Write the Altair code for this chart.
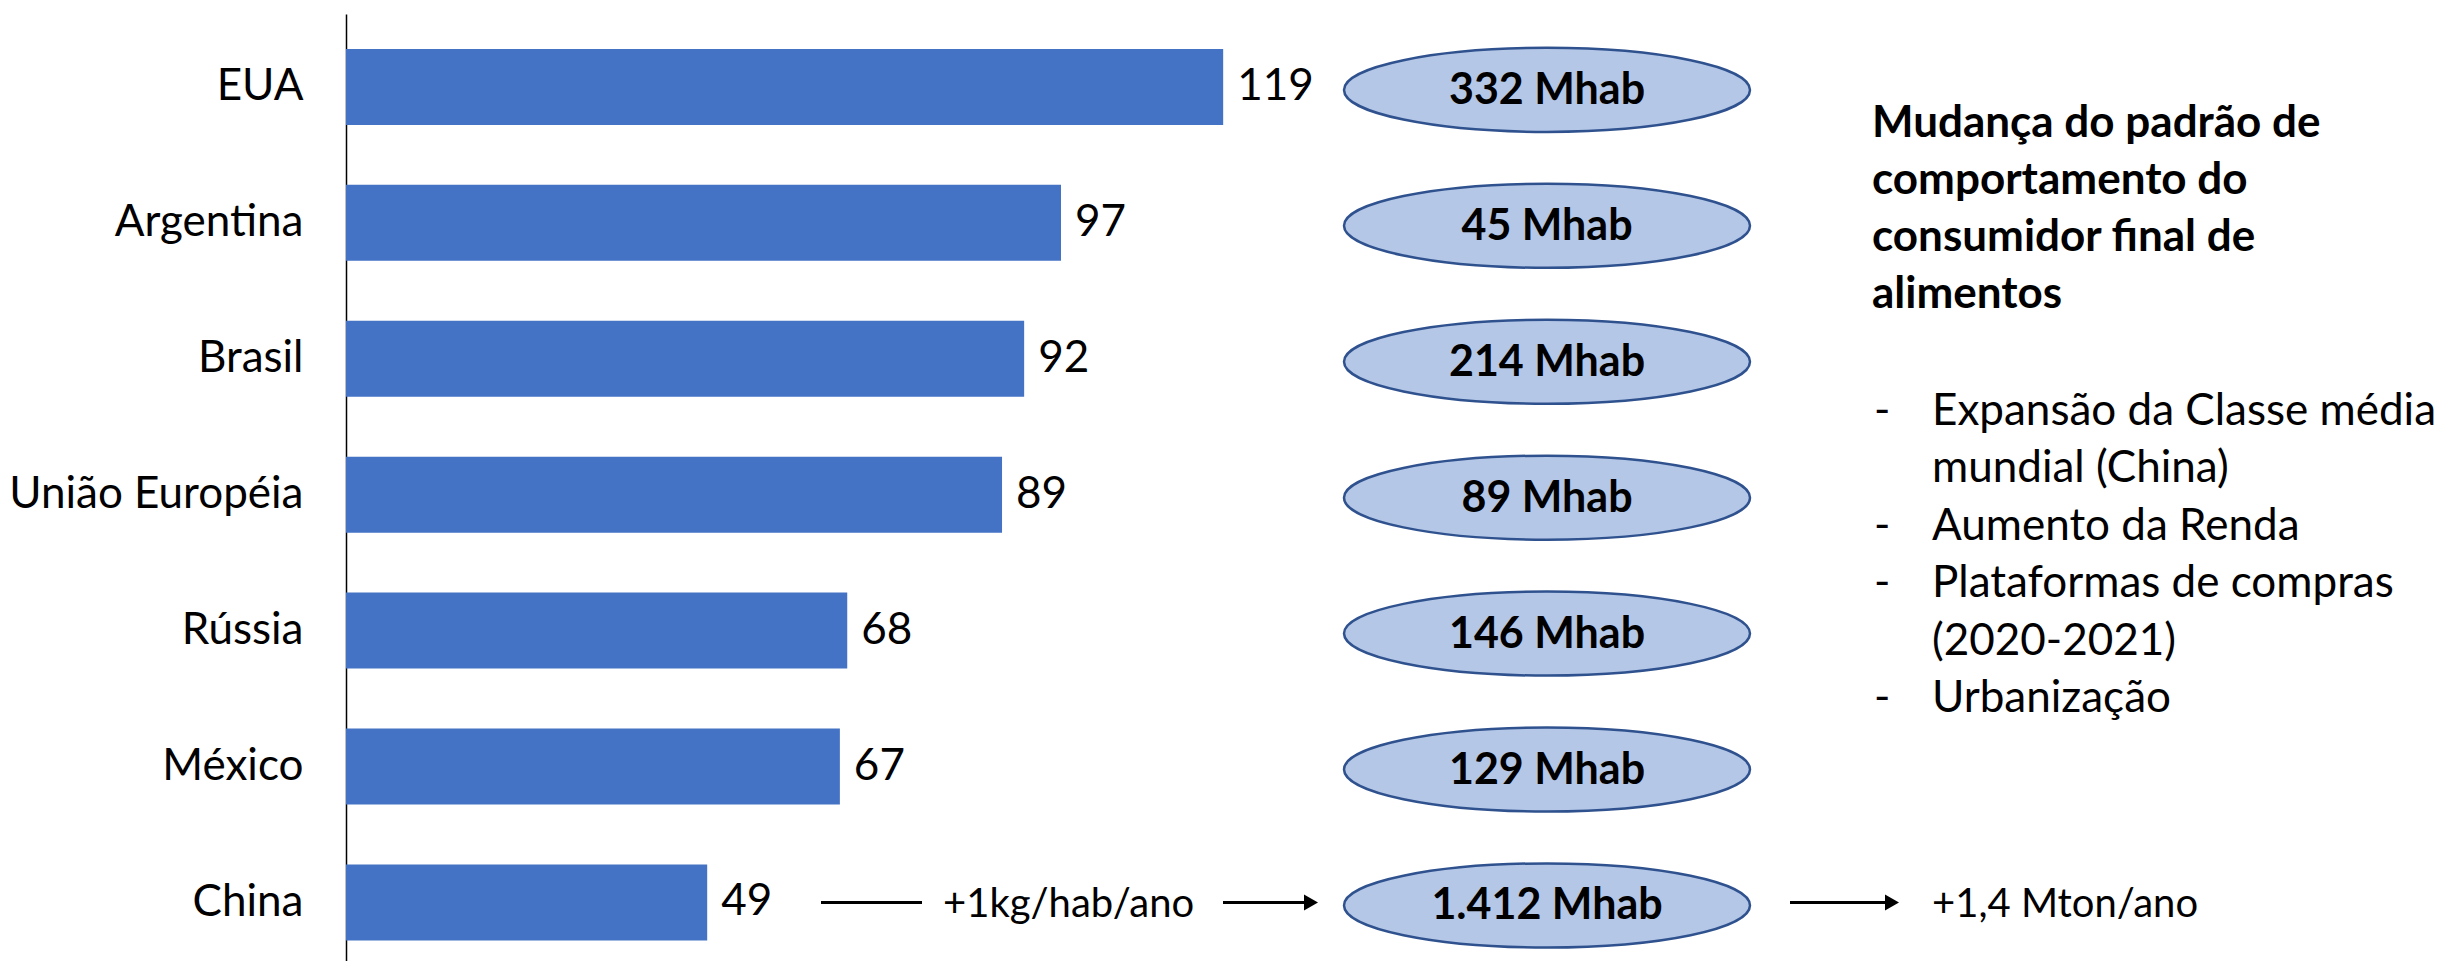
import json
import altair as alt
import pandas as pd

# ---- data ----
countries = ["EUA", "Argentina", "Brasil", "União Européia", "Rússia", "México", "China"]
consumo = [119, 97, 92, 89, 68, 67, 49]
populacao = ["332 Mhab", "45 Mhab", "214 Mhab", "89 Mhab", "146 Mhab", "129 Mhab", "1.412 Mhab"]
header_lines = ["Mudança do padrão de", "comportamento do", "consumidor final de", "alimentos"]
bullet_marks = ["-", "", "-", "-", "", "-"]
bullet_lines = ["Expansão da Classe média", "mundial (China)", "Aumento da Renda",
                "Plataformas de compras", "(2020-2021)", "Urbanização"]
china_growth = "+1kg/hab/ano"
china_total = "+1,4 Mton/ano"

df = pd.DataFrame({"country": countries, "value": consumo, "pop": populacao,
                   "idx": list(range(len(countries)))})
china = df[df["country"] == "China"]

FONT = "Lato"
BAR = "#4472C4"
ELL_FILL = "#B4C7E7"
ELL_STROKE = "#2F528F"

yscale = alt.Scale(domain=[-0.4994, 6.394], reverse=True, nice=False, zero=False)
xscale = alt.Scale(domain=[0, 283.4], nice=False, zero=True)
label_expr = json.dumps(countries) + "[datum.value]"

Y = alt.Y("idx:Q", scale=yscale,
          axis=alt.Axis(values=list(range(len(countries))), labelExpr=label_expr,
                        ticks=False, grid=False, domainColor="black", domainWidth=1.5,
                        labelFont=FONT, labelFontSize=44, labelColor="black",
                        labelPadding=43, labelOverlap=False, labelLimit=0, title=None))
X = alt.X("value:Q", scale=xscale, axis=None)

base = alt.Chart(df)

bars = base.mark_bar(orient="horizontal", size=76, color=BAR).encode(x=X, y=Y)

values = base.mark_text(align="left", baseline="middle", dx=14, font=FONT,
                        fontSize=44, color="black").encode(x=X, y=Y, text="value:Q")

k = 0.5523
ry = 0.207
ellipse_path = (f"M -1 0 C -1 {-k*ry:.4f} {-k:.4f} {-ry} 0 {-ry} "
                f"C {k:.4f} {-ry} 1 {-k*ry:.4f} 1 0 "
                f"C 1 {k*ry:.4f} {k:.4f} {ry} 0 {ry} "
                f"C {-k:.4f} {ry} -1 {k*ry:.4f} -1 0 Z")

ellipses = base.mark_point(shape=ellipse_path, size=406 * 406, filled=True,
                           fill=ELL_FILL, stroke=ELL_STROKE, strokeWidth=2.5,
                           opacity=1, fillOpacity=1, strokeOpacity=1, yOffset=3).encode(
    x=alt.value(1201), y=Y)

ell_text = base.mark_text(align="center", baseline="middle", font=FONT, fontSize=43,
                          fontWeight="bold", color="black", yOffset=4).encode(
    x=alt.value(1201), y=Y, text="pop:N")

cbase = alt.Chart(china)
line1 = cbase.mark_rule(color="black", strokeWidth=3).encode(
    x=alt.value(475), x2=alt.value(576), y=Y)
line2 = cbase.mark_rule(color="black", strokeWidth=3).encode(
    x=alt.value(877), x2=alt.value(964), y=Y)
line3 = cbase.mark_rule(color="black", strokeWidth=3).encode(
    x=alt.value(1444), x2=alt.value(1545), y=Y)
head2 = cbase.mark_point(shape="triangle-right", size=260, filled=True, color="black",
                         opacity=1).encode(x=alt.value(965), y=Y)
head3 = cbase.mark_point(shape="triangle-right", size=260, filled=True, color="black",
                         opacity=1).encode(x=alt.value(1546), y=Y)

growth_text = cbase.mark_text(align="left", baseline="middle", font=FONT, fontSize=40,
                              color="black", yOffset=3).encode(
    x=alt.value(597), y=Y, text=alt.value(china_growth))
total_text = cbase.mark_text(align="left", baseline="middle", font=FONT, fontSize=40,
                             color="black", yOffset=3).encode(
    x=alt.value(1586), y=Y, text=alt.value(china_total))

hdr_df = pd.DataFrame({"t": ["\n".join(header_lines)]})
header = alt.Chart(hdr_df).mark_text(align="left", baseline="alphabetic", font=FONT,
                                     fontSize=44, fontWeight="bold", color="black",
                                     lineBreak="\n", lineHeight=57).encode(
    x=alt.value(1526), y=alt.value(123), text="t:N")

bl_df = pd.DataFrame({"t": ["\n".join(bullet_lines)]})
bullets = alt.Chart(bl_df).mark_text(align="left", baseline="alphabetic", font=FONT,
                                     fontSize=44, color="black",
                                     lineBreak="\n", lineHeight=57.4).encode(
    x=alt.value(1586), y=alt.value(411), text="t:N")

dash_layers = []
for i, m in enumerate(bullet_marks):
    if not m:
        continue
    dash_layers.append(
        alt.Chart(pd.DataFrame({"m": [m]})).mark_text(
            align="left", baseline="alphabetic", font=FONT, fontSize=44, color="black"
        ).encode(x=alt.value(1528), y=alt.value(411 + i * 57.4), text="m:N")
    )

chart = alt.layer(
    bars, values, ellipses, ell_text, line1, line2, line3, head2, head3,
    growth_text, total_text, header, bullets, *dash_layers
).properties(
    width=2089, height=947,
    autosize=alt.AutoSizeParams(type="none"),
    padding={"left": 338, "top": 6, "right": 0, "bottom": 0},
    background="white",
).configure(font=FONT).configure_view(
    strokeWidth=0, stroke="transparent"
).configure_axis(grid=False)

chart.save("out.html", embed_options={"renderer": "svg", "actions": False})
